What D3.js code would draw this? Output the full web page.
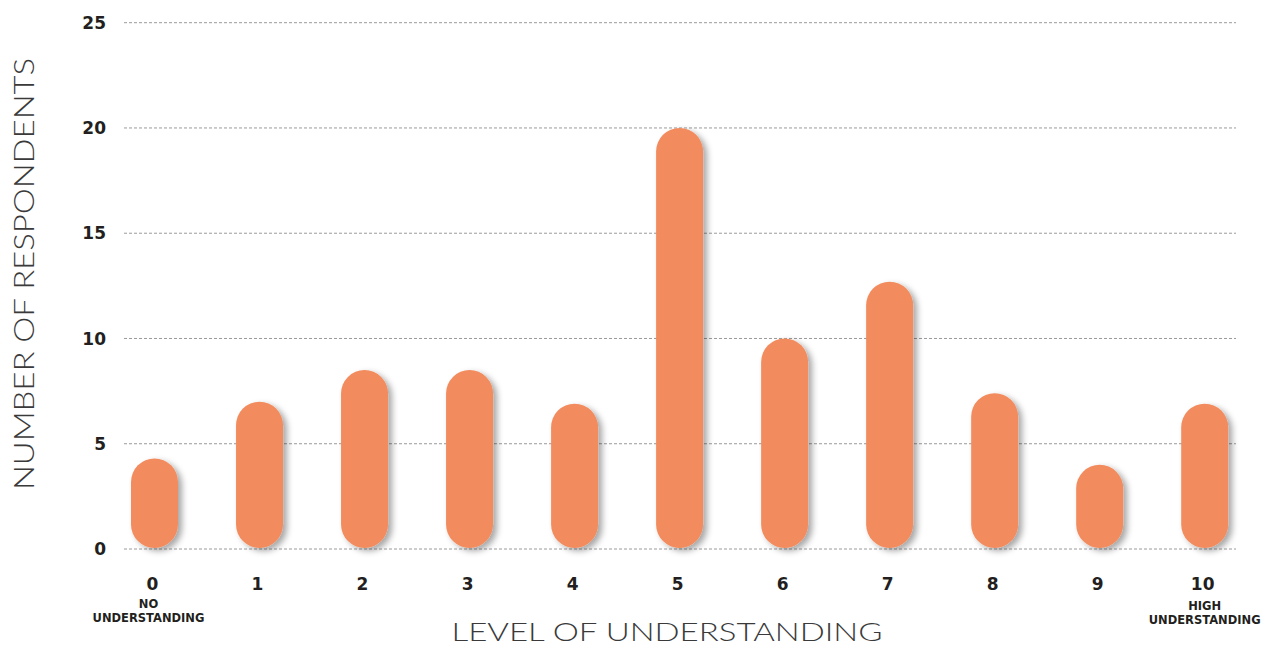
<!DOCTYPE html>
<html>
<head>
<meta charset="utf-8">
<script src="https://cdn.jsdelivr.net/npm/d3@7"></script>
<style>
body { margin: 0; background: #fff; }
svg text { font-family: "DejaVu Sans", sans-serif; fill: #231f20; }
svg text.title { font-family: Lato, "Open Sans", sans-serif; }
</style>
</head>
<body>
<svg width="1268" height="648"></svg>
<script>
'use strict';

var levels = ['0','1','2','3','4','5','6','7','8','9','10'];
var respondents = [4.3, 7, 8.5, 8.5, 6.9, 20, 10, 12.7, 7.4, 4, 6.9];
var yTicks = [0, 5, 10, 15, 20, 25];
var endNotes = [
	{level: '0', lines: ['NO', 'UNDERSTANDING']},
	{level: '10', lines: ['HIGH', 'UNDERSTANDING']}
];

var svg = d3.select('svg');

var scaleX = d3.scalePoint().domain(levels).range([154.5, 1204.7]);
var scaleY = d3.scaleLinear().domain([0, 25]).range([549, 22.7]);
var barW = 47;

var defs = svg.append('defs');
var f = defs.append('filter').attr('id','shadow')
	.attr('x','-30%').attr('y','-10%').attr('width','170%').attr('height','130%');
f.append('feDropShadow')
	.attr('dx', 4).attr('dy', 3)
	.attr('stdDeviation', 3)
	.attr('flood-color', '#000')
	.attr('flood-opacity', 0.35);

// gridlines
svg.append('g')
	.selectAll('line')
	.data(yTicks).enter()
	.append('line')
	.attr('x1', 124)
	.attr('x2', 1236)
	.attr('y1', function(d){ return scaleY(d); })
	.attr('y2', function(d){ return scaleY(d); })
	.attr('stroke', '#9a9a9a')
	.attr('stroke-width', 1)
	.attr('stroke-dasharray', '3,2');

// y tick labels
svg.append('g')
	.selectAll('text')
	.data(yTicks).enter()
	.append('text')
	.attr('x', 106)
	.attr('y', function(d){ return scaleY(d); })
	.attr('dy', '0.36em')
	.attr('text-anchor', 'end')
	.attr('font-size', 17)
	.attr('font-weight', 700)
	.text(function(d){ return d; });

// bars (capsules)
svg.append('g')
	.selectAll('rect')
	.data(respondents).enter()
	.append('rect')
	.attr('x', function(d,i){ return scaleX(levels[i]) - barW/2; })
	.attr('y', function(d){ return scaleY(d); })
	.attr('width', barW)
	.attr('height', function(d){ return scaleY(0) - scaleY(d) - 1; })
	.attr('rx', barW/2)
	.attr('ry', barW/2)
	.attr('fill', '#f28c5e')
	.attr('filter', 'url(#shadow)');

// x tick labels
svg.append('g')
	.selectAll('text')
	.data(levels).enter()
	.append('text')
	.attr('x', function(d){ return scaleX(d) - 2; })
	.attr('y', 590)
	.attr('text-anchor', 'middle')
	.attr('font-size', 17)
	.attr('font-weight', 700)
	.text(function(d){ return d; });

// end notes
endNotes.forEach(function(n){
	var t = svg.append('text')
		.attr('text-anchor', 'middle')
		.attr('font-size', 11.5)
		.attr('font-weight', 700);
	n.lines.forEach(function(l, i){
		t.append('tspan')
			.attr('x', scaleX(n.level) - (n.level === '0' ? 6 : 0))
			.attr('y', 608 + i*14 + (n.level === '10' ? 2 : 0))
			.text(l);
	});
});

// axis titles
svg.append('text')
	.attr('class', 'title')
	.attr('x', 667)
	.attr('y', 641)
	.attr('text-anchor', 'middle')
	.attr('font-size', 26)
	.attr('font-weight', 300)
	.attr('textLength', 431)
	.attr('lengthAdjust', 'spacingAndGlyphs')
	.style('fill', '#3a3a3a')
	.text('LEVEL OF UNDERSTANDING');

svg.append('text')
	.attr('class', 'title')
	.attr('transform', 'translate(34,274) rotate(-90)')
	.attr('text-anchor', 'middle')
	.attr('font-size', 28)
	.attr('font-weight', 300)
	.attr('textLength', 432)
	.attr('lengthAdjust', 'spacingAndGlyphs')
	.style('fill', '#3a3a3a')
	.text('NUMBER OF RESPONDENTS');
</script>
</body>
</html>
